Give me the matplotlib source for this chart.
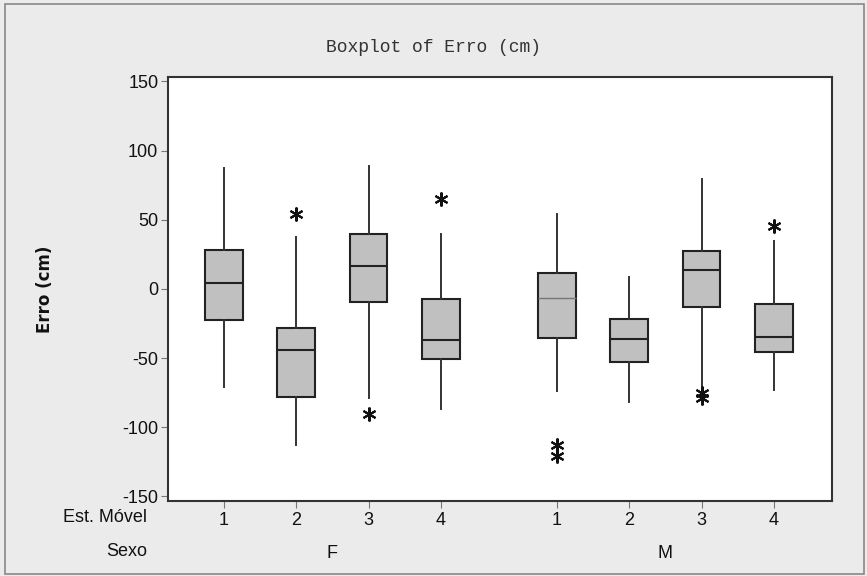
import matplotlib
matplotlib.use("Agg")
import matplotlib.pyplot as plt
from matplotlib.patches import Rectangle

# Values
sexo = ["F", "F", "F", "F", "M", "M", "M", "M"]
est_movel = ["1", "2", "3", "4", "1", "2", "3", "4"]
whisk_lo = [-71, -113, -79, -87, -74, -82, -70, -73]
q1 = [-22.5, -78, -9.5, -51, -35.3, -52.6, -13.4, -46]
median = [4.2, -44.4, 16.3, -36.7, -6.6, -36.3, 13.9, -35]
q3 = [28.3, -28.3, 39.6, -7.4, 11.7, -21.8, 27.1, -10.7]
whisk_hi = [87.6, 37.4, 89.2, 39.9, 54.1, 8.5, 79.3, 34.3]
outliers = [[], [53.8], [-90.2], [65.2], [-113, -121], [], [-75, -79], [45.4]]

positions = [1, 2, 3, 4, 5.6, 6.6, 7.6, 8.6]

plt.rcParams["axes.unicode_minus"] = False


def main():
    fig = plt.figure(figsize=(8.67, 5.76), dpi=100, facecolor="#ebebeb")
    ax = fig.add_axes([0.1938, 0.1307, 0.7658, 0.7356])
    ax.set_facecolor("white")

    stats = []
    for i in range(len(median)):
        stats.append(dict(whislo=whisk_lo[i], q1=q1[i], med=median[i], q3=q3[i],
                          whishi=whisk_hi[i], fliers=outliers[i]))

    bp = ax.bxp(stats, positions=positions, widths=0.52, patch_artist=True,
                showcaps=False,
                boxprops=dict(facecolor="#c0c0c0", edgecolor="#222222", linewidth=1.5),
                medianprops=dict(color="#222222", linewidth=1.5),
                whiskerprops=dict(color="#333333", linewidth=1.4),
                flierprops=dict(marker=(6, 2, 0), markersize=10, markeredgecolor="#111111",
                                markeredgewidth=1.5, linestyle="none"))
    # the M/1 median is drawn lighter in the original
    bp["medians"][4].set_color("#777777")
    bp["medians"][4].set_linewidth(1.0)

    ax.set_xlim(0.23, 9.4)
    ax.set_ylim(-153.2, 153.2)
    ax.set_yticks([-150, -100, -50, 0, 50, 100, 150])

    for s in ax.spines.values():
        s.set_color("#333333")
        s.set_linewidth(1.5)

    tick_font = ["Liberation Sans", "DejaVu Sans"]
    ax.tick_params(axis="y", direction="out", length=5, color="#777777",
                   labelsize=13, labelcolor="#111111", pad=2)
    for lab in ax.get_yticklabels():
        lab.set_family(tick_font)

    ax.set_xticks(positions)
    ax.set_xticklabels(est_movel, family=tick_font, fontsize=13, color="#111111")
    ax.tick_params(axis="x", direction="out", length=5, color="#777777", pad=3)

    # second row of category labels (Sexo)
    for g in ["F", "M"]:
        xs = [p for p, s in zip(positions, sexo) if s == g]
        ax.text((min(xs) + max(xs)) / 2, -0.125, g, transform=ax.get_xaxis_transform(),
                ha="center", va="center", family=tick_font, fontsize=13, color="#111111")

    fig.text(147 / 867, 1 - 518 / 576, "Est. Móvel", ha="right", va="center",
             family=tick_font, fontsize=13, color="#111111")
    fig.text(147 / 867, 1 - 552 / 576, "Sexo", ha="right", va="center",
             family=tick_font, fontsize=13, color="#111111")

    fig.text(45 / 867, 1 - 289 / 576, "Erro (cm)", rotation=90, ha="center", va="center",
             fontsize=12, fontweight="bold", color="#111111")

    fig.text(433 / 867, 1 - 48 / 576, "Boxplot of Erro (cm)", ha="center", va="center",
             family=["Liberation Mono", "DejaVu Sans Mono"], fontsize=13, color="#333333")

    # thin outer frame of the graph window
    fig.patches.append(Rectangle((0.006, 0.003), 0.99, 0.99, transform=fig.transFigure,
                                 fill=False, edgecolor="#888888", linewidth=1.2))

    fig.savefig("out.png", dpi=100, facecolor=fig.get_facecolor())


if __name__ == "__main__":
    main()
